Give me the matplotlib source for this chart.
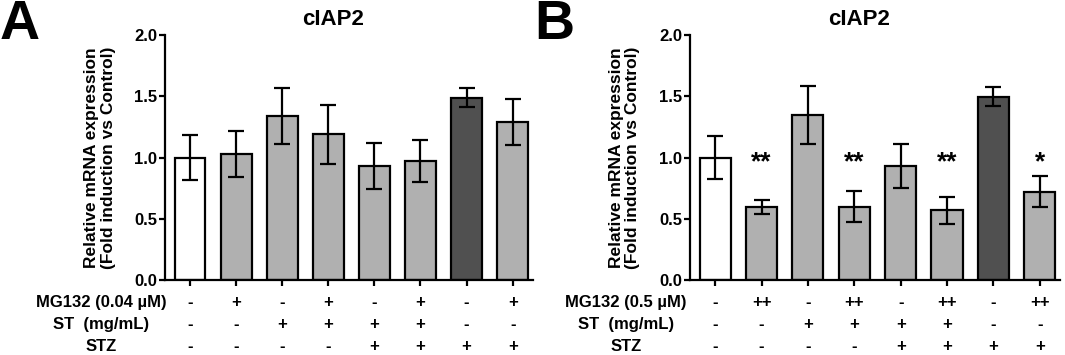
import numpy as np
import matplotlib
matplotlib.use("Agg")
import matplotlib.pyplot as plt
from matplotlib import transforms

plt.rcParams['font.family'] = ['Liberation Sans', 'DejaVu Sans']
plt.rcParams['font.weight'] = 'bold'

# datos
media_a = [1.00, 1.03, 1.34, 1.19, 0.93, 0.97, 1.49, 1.29]
error_a = [0.18, 0.19, 0.23, 0.24, 0.185, 0.17, 0.08, 0.19]
media_b = [1.00, 0.595, 1.345, 0.60, 0.93, 0.57, 1.495, 0.72]
error_b = [0.177, 0.06, 0.235, 0.13, 0.18, 0.11, 0.078, 0.125]
estrellas_b = ['', '**', '', '**', '', '**', '', '*']

colores = ['white', '#b0b0b0', '#b0b0b0', '#b0b0b0', '#b0b0b0', '#b0b0b0', '#505050', '#b0b0b0']

filas_a = ['MG132 (0.04 µM)', 'ST  (mg/mL)', 'STZ']
filas_b = ['MG132 (0.5 µM)', 'ST  (mg/mL)', 'STZ']
mg132_a = ['-', '+', '-', '+', '-', '+', '-', '+']
mg132_b = ['-', '++', '-', '++', '-', '++', '-', '++']
st = ['-', '-', '+', '+', '+', '+', '-', '-']
stz = ['-', '-', '-', '-', '+', '+', '+', '+']

fig = plt.figure(figsize=(10.65, 3.55), dpi=100)
ax_a = fig.add_axes([0.155, 0.2113, 0.345, 0.690])
ax_b = fig.add_axes([0.648, 0.2113, 0.347, 0.690])

y_filas = [0.149, 0.087, 0.025]


def panel(ax, medias, errores, filas, tabla, letra, x_letra, estrellas=None):
    x = np.arange(len(medias))
    ax.bar(x, medias, width=0.67, color=colores, edgecolor='black', linewidth=1.6, zorder=2)
    ax.errorbar(x, medias, yerr=errores, fmt='none', ecolor='black', elinewidth=1.6,
                capsize=6, capthick=1.6, zorder=3)
    ax.set_ylim(0, 2.0)
    ax.set_xlim(-0.54, 7.43)
    ax.set_yticks([0.0, 0.5, 1.0, 1.5, 2.0])
    ax.set_yticklabels(['0.0', '0.5', '1.0', '1.5', '2.0'])
    ax.set_xticks(x)
    ax.set_xticklabels([])
    for s in ['top', 'right']:
        ax.spines[s].set_visible(False)
    for s in ['left', 'bottom']:
        ax.spines[s].set_linewidth(1.6)
    ax.tick_params(axis='y', direction='out', length=4.5, width=1.6, labelsize=12, pad=1)
    ax.tick_params(axis='x', direction='out', length=4.5, width=1.6)
    ax.text(3.1, 0.946, 'cIAP2', transform=transforms.blended_transform_factory(ax.transData, fig.transFigure),
            ha='center', va='center', fontsize=16, fontweight='bold')
    ax.text(-0.177, 0.5, 'Relative mRNA expression\n(Fold induction vs Control)', transform=ax.transAxes,
            rotation=90, ha='center', va='center', fontsize=12.5, fontweight='bold', linespacing=1.1)
    if estrellas is not None:
        for xi, e in zip(x, estrellas):
            if e:
                ax.text(xi, 0.9, e, ha='center', va='baseline', fontsize=19, fontweight='bold')
    tr = transforms.blended_transform_factory(ax.transData, fig.transFigure)
    for nombre, valores, yf in zip(filas, tabla, y_filas):
        ax.text(-1.93, yf, nombre, transform=tr, ha='center', va='center', fontsize=12, fontweight='bold')
        for xi, v in zip(x, valores):
            ax.text(xi, yf, v, transform=tr, ha='center', va='center', fontsize=12, fontweight='bold')
    fig.text(x_letra, 0.93, letra, ha='left', va='center', fontsize=40, fontweight='bold')


panel(ax_a, media_a, error_a, filas_a, [mg132_a, st, stz], 'A', 0.0)
panel(ax_b, media_b, error_b, filas_b, [mg132_b, st, stz], 'B', 0.502, estrellas_b)

fig.savefig('out.png', dpi=100)
